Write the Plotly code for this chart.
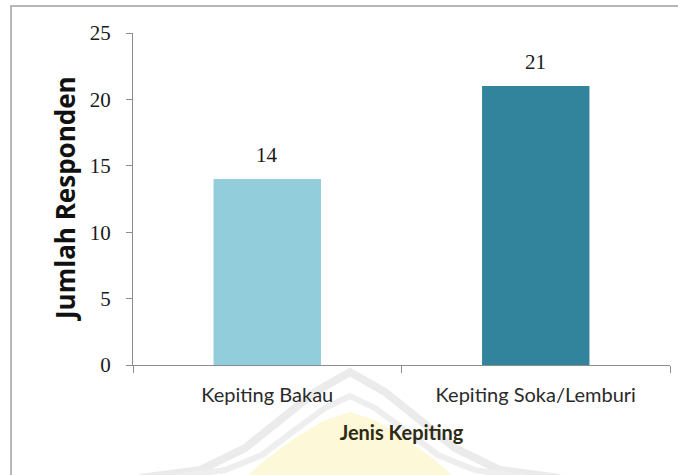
import plotly.graph_objects as go

categories = ["Kepiting Bakau", "Kepiting Soka/Lemburi"]
values = [14, 21]
colors = ["#92CDDC", "#31849B"]
y_ticks = [0, 5, 10, 15, 20, 25]
y_title = "Jumlah Responden"
x_title = "Jenis Kepiting"

# layout geometry (pixels)
W, H = 678, 475
ML, MR, MT, MB = 133, 8, 33, 110
PW, PH = W - ML - MR, H - MT - MB


def px(xp):
    return (xp - ML) / PW


def py(yp):
    return (H - MB - yp) / PH


def path(pts):
    return "M " + " L ".join(f"{px(a):.4f},{py(b):.4f}" for a, b in pts)


fig = go.Figure()
fig.add_trace(go.Bar(
    x=categories, y=values, marker=dict(color=colors, line=dict(width=0)),
    width=0.4, cliponaxis=False, hoverinfo="x+y",
))

for c, v in zip(categories, values):
    fig.add_annotation(x=c, y=v, text=str(v), showarrow=False, yanchor="bottom",
                       yshift=10, font=dict(family="Liberation Serif", size=21, color="#1a1a1a"))

fig.add_annotation(xref="paper", yref="paper", x=px(65), y=0.5, text=f"<b>{y_title}</b>",
                   textangle=-90, showarrow=False, xanchor="center", yanchor="middle",
                   font=dict(family="Open Sans", size=26, color="#111"))

# faint watermark (background logo)
outer = [(140, 478), (200, 470), (245, 448), (280, 420), (315, 392), (350, 372),
         (385, 392), (420, 420), (455, 448), (500, 470), (560, 478)]
inner = [(170, 478), (225, 470), (262, 455), (295, 430), (325, 408), (350, 396),
         (375, 408), (405, 430), (438, 455), (475, 470), (530, 478)]
yellow = [(245, 478), (265, 460), (295, 438), (325, 420), (350, 412),
          (375, 420), (405, 438), (435, 460), (455, 478)]

shapes = [
    dict(type="rect", xref="paper", yref="paper", x0=px(11), x1=px(700), y0=py(500), y1=py(6),
         line=dict(color="#a0a0a0", width=1.5), layer="below"),
    dict(type="path", xref="paper", yref="paper", path=path(yellow) + " Z",
         fillcolor="#fdf9d8", line=dict(width=0), layer="below"),
    dict(type="path", xref="paper", yref="paper", path=path(outer),
         line=dict(color="#ebebeb", width=8), layer="below"),
    dict(type="path", xref="paper", yref="paper", path=path(inner),
         line=dict(color="#eeeeee", width=6), layer="below"),
]

fig.update_layout(
    width=W, height=H,
    margin=dict(l=ML, r=MR, t=MT, b=MB, autoexpand=False),
    paper_bgcolor="white", plot_bgcolor="rgba(0,0,0,0)",
    showlegend=False,
    xaxis=dict(
        showline=True, linecolor="#8c8c8c", linewidth=1,
        ticks="outside", tickson="boundaries", ticklen=7, tickcolor="#8c8c8c",
        ticklabelstandoff=12,
        tickfont=dict(family="Lato", size=20, color="#2a2a2a"),
        title=dict(text=f"<b>{x_title}</b>", font=dict(family="Lato", size=20, color="#2e2a14"), standoff=20),
    ),
    yaxis=dict(
        range=[0, 25], tickvals=y_ticks, showgrid=False, zeroline=False,
        showline=True, linecolor="#8c8c8c", linewidth=1,
        ticks="outside", ticklen=6, tickcolor="#8c8c8c",
        ticklabelstandoff=11,
        tickfont=dict(family="Liberation Serif", size=21, color="#1a1a1a"),
    ),
    shapes=shapes,
)

fig.write_html("out.html")
